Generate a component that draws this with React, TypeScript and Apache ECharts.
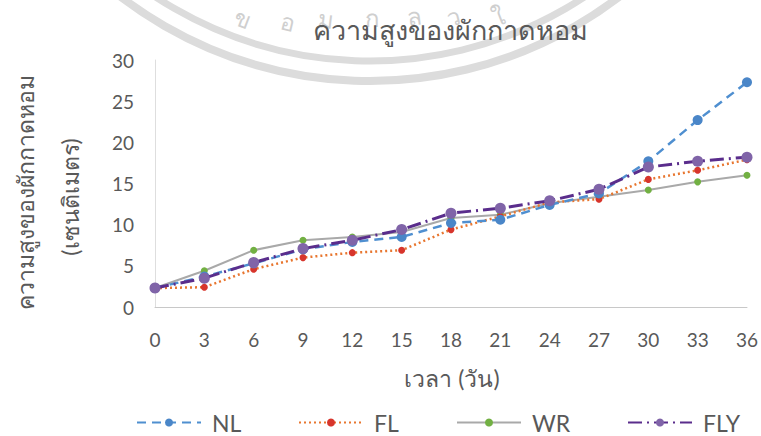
import React, { useEffect, useRef } from "react";
import * as echarts from "echarts";

const days = [0, 3, 6, 9, 12, 15, 18, 21, 24, 27, 30, 33, 36];
const NL = [2.3, 3.7, 5.3, 7.0, 7.9, 8.5, 10.2, 10.6, 12.4, 13.8, 17.7, 22.7, 27.3];
const FL = [2.3, 2.4, 4.6, 6.0, 6.6, 6.9, 9.4, 11.0, 12.7, 13.1, 15.5, 16.6, 17.9];
const WR = [2.3, 4.4, 6.9, 8.1, 8.5, 9.1, 10.8, 11.2, 12.6, 13.4, 14.2, 15.2, 16.0];
const FLY = [2.3, 3.5, 5.4, 7.1, 8.1, 9.4, 11.4, 12.0, 12.9, 14.3, 17.0, 17.7, 18.2];
const seriesNames = ["NL", "FL", "WR", "FLY"];

const titleText = "ความสูงของผักกาดหอม";
const yName1 = "ความสูงของผักกาดหอม";
const yName2 = "(เซนติเมตร)";
const xName = "เวลา (วัน)";
const wmChars = ["ข", "อ", "ม", "ก", "ล", "ว", "ใ"];
const wmX = [243, 288, 326, 372, 414, 453, 498];
const wmY = [18, 21, 19, 17, 16, 16, 16];

const FONT = "Lato, 'Noto Sans', sans-serif";
const TXT = "#595959";

export default function App() {
  const ref = useRef<HTMLDivElement>(null);
  useEffect(() => {
    if (!ref.current) return;
    const chart = echarts.init(ref.current, null, { renderer: "svg" });
    const pairs = (arr: number[]) => days.map((d, i) => [d, arr[i]]);
    const cx = 370, cy = -330;
    const wm: any[] = [
      { type: "circle", z: -10, silent: true, shape: { cx, cy, r: 391 }, style: { fill: "none", stroke: "#dcdcdc", lineWidth: 7 } },
      { type: "circle", z: -10, silent: true, shape: { cx, cy, r: 411 }, style: { fill: "none", stroke: "#dcdcdc", lineWidth: 8 } },
    ];
    wmChars.forEach((c, i) => {
      const x = wmX[i];
      const dx = x - cx;
      wm.push({
        type: "text", z: -10, silent: true, x, y: wmY[i], rotation: Math.asin(dx / 360),
        style: {
          text: c, fill: "#cfcfcf", fontSize: 24, fontFamily: FONT,
          align: "center", verticalAlign: "middle",
        },
      });
    });
    const legendLeft = [136, 298, 456, 627];
    chart.setOption({
      animation: false,
      backgroundColor: "#ffffff",
      title: {
        text: titleText, left: 445, top: 11, textAlign: "center",
        textStyle: { color: TXT, fontSize: 27, fontWeight: "normal", fontFamily: FONT },
      },
      grid: { left: 155, right: 11, top: 60, bottom: 129 },
      xAxis: {
        type: "value", min: 0, max: 36, interval: 3,
        axisLine: { show: true, lineStyle: { color: "#c8c8c8", width: 1 } },
        axisTick: { show: false },
        splitLine: { show: false },
        axisLabel: { color: TXT, fontSize: 19, fontFamily: FONT, margin: 23 },
      },
      yAxis: {
        type: "value", min: 0, max: 30, interval: 5,
        axisLine: { show: true, lineStyle: { color: "#dedede", width: 1 } },
        axisTick: { show: false },
        splitLine: { show: false },
        axisLabel: { color: TXT, fontSize: 19, fontFamily: FONT, margin: 21 },
      },
      legend: seriesNames.map((n, i) => ({
        bottom: 2, left: legendLeft[i], padding: 0, itemWidth: 64, itemHeight: 10,
        textStyle: { color: TXT, fontSize: 23, fontFamily: FONT, padding: [0, 0, 0, 6] },
        data: [n],
      })),
      graphic: [
        ...wm,
        { type: "text", x: 25, y: 192, rotation: Math.PI / 2, style: { text: yName1, fill: TXT, fontSize: 23, fontFamily: FONT, align: "center", verticalAlign: "middle" } },
        { type: "text", x: 70, y: 197, rotation: Math.PI / 2, style: { text: yName2, fill: TXT, fontSize: 23, fontFamily: FONT, align: "center", verticalAlign: "middle" } },
        { type: "text", x: 452, y: 378, style: { text: xName, fill: TXT, fontSize: 23, fontFamily: FONT, align: "center", verticalAlign: "middle" } },
      ],
      series: [
        {
          name: "NL", type: "line", data: pairs(NL), symbol: "circle", symbolSize: 10,
          itemStyle: { color: "#4a86c8" },
          lineStyle: { color: "#4f8fd0", width: 2.5, type: [9, 6] },
          z: 3,
        },
        {
          name: "FL", type: "line", data: pairs(FL), symbol: "circle", symbolSize: 7,
          itemStyle: { color: "#d7352c" },
          lineStyle: { color: "#e8762f", width: 2.5, type: [2, 3] },
          z: 2,
        },
        {
          name: "WR", type: "line", data: pairs(WR), symbol: "circle", symbolSize: 7,
          itemStyle: { color: "#72b043" },
          lineStyle: { color: "#a9a9a9", width: 2, type: "solid" },
          z: 1,
        },
        {
          name: "FLY", type: "line", data: pairs(FLY), symbol: "circle", symbolSize: 11,
          itemStyle: { color: "#8064a8" },
          lineStyle: { color: "#5a2d8c", width: 3, type: [14, 5, 2, 5] },
          z: 4,
        },
      ],
    });
    return () => chart.dispose();
  }, []);
  return <div ref={ref} style={{ width: 761, height: 436, position: "absolute", left: 0, top: 0 }} />;
}
